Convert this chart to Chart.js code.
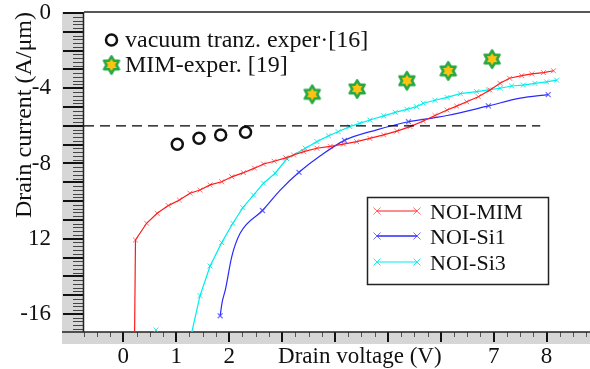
<!DOCTYPE html>
<html>
<head>
<meta charset="utf-8">
<script src="https://cdn.jsdelivr.net/npm/chart.js@4/dist/chart.umd.min.js"></script>
<style>
  html, body { margin: 0; background: #fff; }
  canvas { display: block; }
</style>
</head>
<body>
<canvas id="chartIV" width="590" height="369"></canvas>
<script>
// Valores (tensão em V, corrente em A/µm)
const mimV = [0.21, 0.23, 0.44, 0.64, 0.85, 1.06, 1.26, 1.45, 1.64, 1.86, 2.05, 2.27, 2.48, 2.65, 2.85, 3.07, 3.22, 3.41, 3.66, 3.91, 4.16, 4.41, 4.66, 4.92, 5.17, 5.42, 5.67, 5.89, 6.12, 6.30, 6.49, 6.71, 6.93, 7.12, 7.30, 7.53, 7.72, 7.94, 8.13];
const mimI = [-17.9, -12.07, -11.18, -10.65, -10.24, -9.94, -9.58, -9.41, -9.14, -8.97, -8.71, -8.49, -8.25, -8.03, -7.88, -7.70, -7.55, -7.37, -7.19, -7.09, -6.97, -6.84, -6.67, -6.48, -6.28, -6.04, -5.74, -5.45, -5.16, -4.95, -4.72, -4.45, -4.09, -3.74, -3.47, -3.33, -3.24, -3.17, -3.07];

const si1V = [1.83, 1.87, 1.93, 2.05, 2.21, 2.63, 2.97, 3.32, 3.73, 4.18, 4.79, 5.39, 5.89, 6.12, 6.90, 7.50, 8.03];
const si1I = [-16.1, -15.35, -14.7, -12.95, -11.7, -10.5, -9.4, -8.47, -7.58, -6.77, -6.21, -5.78, -5.56, -5.45, -4.94, -4.53, -4.34];
const si1MarkerV = [1.83, 2.63, 3.32, 4.18, 5.39, 6.90, 8.03];

const si3V = [0.62, 0.90, 1.22, 1.45, 1.64, 1.86, 2.07, 2.26, 2.46, 2.65, 2.87, 3.09, 3.44, 3.66, 3.88, 4.06, 4.28, 4.47, 4.66, 4.92, 5.14, 5.36, 5.54, 5.67, 5.89, 6.12, 6.37, 6.68, 6.90, 7.12, 7.34, 7.56, 7.78, 8.00, 8.19];
const si3I = [-16.85, null, -17.9, -15.03, -13.45, -12.21, -11.18, -10.35, -9.68, -9.05, -8.52, -7.75, -7.19, -6.84, -6.53, -6.31, -6.04, -5.87, -5.69, -5.47, -5.28, -5.12, -4.98, -4.80, -4.64, -4.49, -4.29, -4.18, -4.09, -4.00, -3.88, -3.83, -3.74, -3.66, -3.57];

const vacV = [1.02, 1.43, 1.84, 2.31];
const vacI = [-6.98, -6.66, -6.49, -6.34];

const mimExpV = [3.57, 4.42, 5.36, 6.14, 6.97];
const mimExpI = [-4.32, -4.04, -3.60, -3.08, -2.45];

const refLineV = [-0.743, 7.88];
const refLineI = [-6, -6];

const xTickVals = [0, 1, 2, 4.47, 7, 8];
const xTickText = ['0', '1', '2', 'Drain voltage (V)', '7', '8'];
const yTickVals = [0, -4, -8, -12, -16];
const yTickText = ['0', '-4', '-8', '12', '-16'];

const seriesNames = ['NOI-MIM', 'NOI-Si1', 'NOI-Si3'];
const expNames = ['vacuum tranz. exper·[16]', 'MIM-exper. [19]'];
const yTitle = 'Drain current (A/μm)';

const SERIF = '"Liberation Serif", "Times New Roman", serif';
const cores = ['#ff1a1a', '#2a2aff', '#00eeee'];
const coresMarca = ['rgba(255,40,40,0.65)', 'rgba(60,60,255,0.75)', 'rgba(0,230,230,0.85)'];

const pares = (xs, ys) => xs.map((v, i) => ({ x: v, y: ys[i] }));

function desenhaEstrela(g, cx, cy, R) {
    g.beginPath();
    for (let k = 0; k < 12; k++) {
        const ang = -Math.PI / 2 + k * Math.PI / 6;
        const r = k % 2 === 0 ? R : R / Math.sqrt(3);
        g.lineTo(cx + r * Math.cos(ang), cy + r * Math.sin(ang));
    }
    g.closePath();
    g.fillStyle = '#ffc20e';
    g.fill();
    g.lineWidth = 2.6;
    g.lineJoin = 'round';
    g.strokeStyle = '#27a844';
    g.stroke();
}

const estrela = document.createElement('canvas');
estrela.width = 22;
estrela.height = 24;
desenhaEstrela(estrela.getContext('2d'), 11, 12, 8.6);

function desenhaX(ctx, x, y, r, cor) {
    ctx.strokeStyle = cor;
    ctx.lineWidth = 1;
    ctx.beginPath();
    ctx.moveTo(x - r, y - r); ctx.lineTo(x + r, y + r);
    ctx.moveTo(x - r, y + r); ctx.lineTo(x + r, y - r);
    ctx.stroke();
}

// Faixa cinza e marcas dos eixos
const eixosPlugin = {
    id: 'eixos',
    beforeDraw(chart) {
        const { ctx, chartArea: a } = chart;
        ctx.save();
        ctx.fillStyle = '#fff';
        ctx.fillRect(0, 0, chart.width, chart.height);
        ctx.fillStyle = '#d6d6d6';
        ctx.fillRect(62, a.top, a.left - 62, a.bottom - a.top);
        ctx.fillRect(62, a.bottom, chart.width - 62, 12);
        ctx.restore();
    },
    beforeDatasetsDraw(chart) {
        const { ctx, chartArea: a, scales } = chart;
        const sx = scales.x, sy = scales.y;
        ctx.save();
        // eixo y
        for (let k = 0; k <= 170; k++) {
            const v = -k / 10;
            if (v < sy.min) break;
            const py = Math.round(sy.getPixelForValue(v));
            if (k % 10 === 0) {
                ctx.fillStyle = '#111';
                ctx.fillRect(63, py - 1, a.left - 63, 2);
            } else if (k % 2 === 0) {
                ctx.fillStyle = '#444';
                ctx.fillRect(a.left - 11, py, 11, 1);
            }
        }
        // eixo x
        for (let k = -3; k <= 35; k++) {
            const v = k / 4;
            if (v > sx.max) break;
            const px = Math.round(sx.getPixelForValue(v));
            if (k % 4 === 0) {
                ctx.fillStyle = '#111';
                ctx.fillRect(px - 1, a.bottom, 2, 10);
            } else {
                ctx.fillStyle = '#555';
                ctx.fillRect(px, a.bottom, 1, 5);
            }
        }
        ctx.strokeStyle = '#222';
        ctx.lineWidth = 1.5;
        ctx.beginPath();
        ctx.moveTo(a.left, a.top); ctx.lineTo(chart.width, a.top);
        ctx.moveTo(a.left - 0.5, a.top); ctx.lineTo(a.left - 0.5, a.bottom);
        ctx.moveTo(62, a.bottom); ctx.lineTo(chart.width, a.bottom);
        ctx.stroke();
        ctx.restore();
    },
    afterDatasetsDraw(chart) {
        const ctx = chart.ctx;
        ctx.save();
        // legenda dos experimentos
        ctx.beginPath();
        ctx.arc(111.5, 40, 5.5, 0, Math.PI * 2);
        ctx.fillStyle = '#fff';
        ctx.fill();
        ctx.lineWidth = 2.5;
        ctx.strokeStyle = '#111';
        ctx.stroke();
        ctx.drawImage(estrela, 111.5 - 11, 65 - 12);
        ctx.fillStyle = '#111';
        ctx.font = '24px ' + SERIF;
        ctx.textBaseline = 'alphabetic';
        ctx.fillText(expNames[0], 125, 47);
        ctx.fillText(expNames[1], 125, 72);

        // legenda das simulações
        ctx.fillStyle = '#fff';
        ctx.fillRect(367.5, 197.5, 181, 87);
        ctx.strokeStyle = '#222';
        ctx.lineWidth = 1.5;
        ctx.strokeRect(367.5, 197.5, 181, 87);
        const linhasY = [211, 236, 262];
        ctx.font = '22px ' + SERIF;
        seriesNames.forEach((nome, i) => {
            const y = linhasY[i];
            ctx.strokeStyle = cores[i];
            ctx.lineWidth = i === 1 ? 1.5 : 1.2;
            ctx.beginPath();
            ctx.moveTo(377, y); ctx.lineTo(417, y);
            ctx.stroke();
            desenhaX(ctx, 377, y, 3.5, coresMarca[i]);
            desenhaX(ctx, 417, y, 3.5, coresMarca[i]);
            ctx.fillStyle = '#111';
            ctx.fillText(nome, 430, y + 7.5);
        });
        ctx.restore();
    }
};

const tickFont = { family: SERIF, size: 23 };

new Chart(document.getElementById('chartIV'), {
    type: 'line',
    data: {
        datasets: [
            {
                label: 'ref',
                data: pares(refLineV, refLineI),
                borderColor: '#000',
                borderWidth: 1.2,
                borderDash: [10, 6],
                pointRadius: 0
            },
            {
                label: seriesNames[0],
                data: pares(mimV, mimI),
                borderColor: cores[0],
                borderWidth: 1.2,
                pointStyle: 'crossRot',
                pointRadius: 3.5,
                pointBorderColor: coresMarca[0],
                pointBorderWidth: 1
            },
            {
                label: seriesNames[1],
                data: pares(si1V, si1I),
                borderColor: cores[1],
                borderWidth: 1.2,
                pointStyle: 'crossRot',
                pointRadius: c => si1MarkerV.includes(si1V[c.dataIndex]) ? 3.5 : 0,
                pointBorderColor: coresMarca[1],
                pointBorderWidth: 1.2,
                cubicInterpolationMode: 'monotone'
            },
            {
                label: seriesNames[2],
                data: pares(si3V, si3I),
                borderColor: cores[2],
                borderWidth: 1.2,
                pointStyle: 'crossRot',
                pointRadius: 3.5,
                pointBorderColor: coresMarca[2],
                pointBorderWidth: 1,
                spanGaps: false
            },
            {
                label: expNames[0],
                data: pares(vacV, vacI),
                showLine: false,
                pointStyle: 'circle',
                pointRadius: 5.5,
                pointBackgroundColor: '#fff',
                pointBorderColor: '#111',
                pointBorderWidth: 2.5
            },
            {
                label: expNames[1],
                data: pares(mimExpV, mimExpI),
                showLine: false,
                pointStyle: estrela
            }
        ]
    },
    options: {
        responsive: false,
        animation: false,
        devicePixelRatio: 1,
        layout: { autoPadding: false, padding: { top: 12, right: 0, left: 0, bottom: 0 } },
        scales: {
            x: {
                type: 'linear',
                min: -0.743,
                max: 8.82,
                grid: { display: false },
                border: { display: false },
                afterBuildTicks: s => { s.ticks = xTickVals.map(v => ({ value: v })); },
                afterFit: s => {
                    s.height = 37;
                    s.paddingLeft = 0;
                    s.paddingRight = 0;
                },
                ticks: {
                    autoSkip: false,
                    maxRotation: 0,
                    padding: 3,
                    color: '#111',
                    font: tickFont,
                    callback: (v, i) => xTickText[i]
                }
            },
            y: {
                type: 'linear',
                min: -16.96,
                max: 0.053,
                grid: { display: false },
                border: { display: false },
                afterBuildTicks: s => { s.ticks = yTickVals.map(v => ({ value: v })); },
                afterFit: s => {
                    s.width = 84;
                    s.paddingTop = 0;
                    s.paddingBottom = 0;
                },
                ticks: {
                    autoSkip: false,
                    padding: 25,
                    color: '#111',
                    font: tickFont,
                    callback: (v, i) => yTickText[i]
                },
                title: {
                    display: true,
                    text: yTitle,
                    align: 'end',
                    color: '#111',
                    font: { family: SERIF, size: 24 },
                    padding: { top: 10, bottom: 0 }
                }
            }
        },
        plugins: {
            legend: { display: false },
            tooltip: { enabled: false }
        }
    },
    plugins: [eixosPlugin]
});
</script>
</body>
</html>
